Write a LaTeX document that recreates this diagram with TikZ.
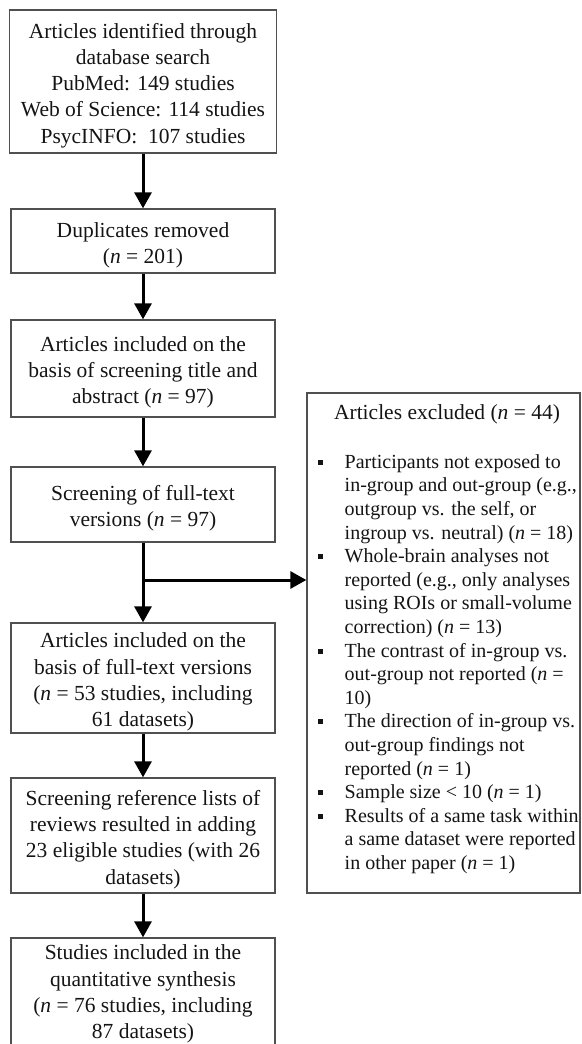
\documentclass[tikz,border=0pt]{standalone}
\usepackage{fontspec}
\setmainfont{Liberation Serif}
\usetikzlibrary{arrows.meta}
\definecolor{boxgray}{HTML}{505050}
\definecolor{txt}{HTML}{141414}
\newcommand\sqbul{\raisebox{3.5pt}{\rule{5pt}{5pt}}}
\newcommand\bl[1]{\makebox[27pt][l]{\sqbul}#1}
\newcommand\cl[1]{\hspace*{27pt}#1}
\newcommand\tp{\rule{0pt}{23pt}}
\begin{document}
\begin{tikzpicture}[x=1pt,y=-1pt,
  box/.style={draw=boxgray, line width=1.3pt, rectangle, inner sep=0pt, align=center,
    text=txt, font=\fontsize{21.5}{26.2}\selectfont},
  arr/.style={line width=3pt, draw=black, -{Triangle[width=17pt,length=16pt]}},
  small/.style={inner sep=0pt, text=txt, font=\fontsize{20}{23.6}\selectfont}
]
\useasboundingbox (0,0) rectangle (581,1044);
\clip (0,0) rectangle (581,1044);

\node[box, minimum width=267pt, minimum height=143pt] (b1) at (143,81.5)
  {\tp Articles identified through\\database search\\PubMed: 149 studies\\Web of Science: 114 studies\\PsycINFO:\ \ 107 studies};
\node[box, minimum width=264pt, minimum height=64pt] (b2) at (143,241)
  {\tp Duplicates removed\\(\textit{n} = 201)};
\node[box, minimum width=264pt, minimum height=97pt] (b3) at (143,368.5)
  {\tp Articles included on the\\basis of screening title and\\abstract (\textit{n} = 97)};
\node[box, minimum width=264pt, minimum height=75pt] (b4) at (143,504.5)
  {\tp Screening of full-text\\versions (\textit{n} = 97)};
\node[box, minimum width=264pt, minimum height=110pt] (b5) at (143,678)
  {\tp Articles included on the\\basis of full-text versions\\(\textit{n} = 53 studies, including\\61 datasets)};
\node[box, minimum width=264pt, minimum height=115pt] (b6) at (143,835.5)
  {\tp Screening reference lists of\\reviews resulted in adding\\23 eligible studies (with 26\\datasets)};
\node[box, minimum width=264pt, minimum height=112pt] (b7) at (143,994)
  {Studies included in the\\quantitative synthesis\\(\textit{n} = 76 studies, including\\87 datasets)};

% excluded box
\node[draw=boxgray, line width=1.3pt, rectangle, minimum width=273pt, minimum height=500pt, inner sep=0pt] (ex) at (443.5,643) {};
\node[small, anchor=base, font=\fontsize{21.5}{26}\selectfont] (ext) at (447,419) {Articles excluded (\textit{n} = 44)};
\node[small, anchor=north west, align=left] (exl) at (317.5,451.5)
  {\strut\bl{Participants not exposed to}\\
   \cl{in-group and out-group (e.g.,}\\
   \cl{outgroup vs. the self, or}\\
   \cl{ingroup vs. neutral) (\textit{n} = 18)}\\
   \bl{Whole-brain analyses not}\\
   \cl{reported (e.g., only analyses}\\
   \cl{using ROIs or small-volume}\\
   \cl{correction) (\textit{n} = 13)}\\
   \bl{The contrast of in-group vs.}\\
   \cl{out-group not reported (\textit{n} =}\\
   \cl{10)}\\
   \bl{The direction of in-group vs.}\\
   \cl{out-group findings not}\\
   \cl{reported (\textit{n} = 1)}\\
   \bl{Sample size < 10 (\textit{n} = 1)}\\
   \bl{Results of a same task within}\\
   \cl{a same dataset were reported}\\
   \cl{in other paper (\textit{n} = 1)}};

% arrows
\draw[arr] (b1.south) -- (b2.north);
\draw[arr] (b2.south) -- (b3.north);
\draw[arr] (b3.south) -- (b4.north);
\draw[arr] (b4.south) -- (b5.north);
\coordinate (br) at (143,580);
\draw[arr] (br) -- (br -| ex.west);
\draw[arr] (b5.south) -- (b6.north);
\draw[arr] (b6.south) -- (b7.north);
\end{tikzpicture}
\end{document}
